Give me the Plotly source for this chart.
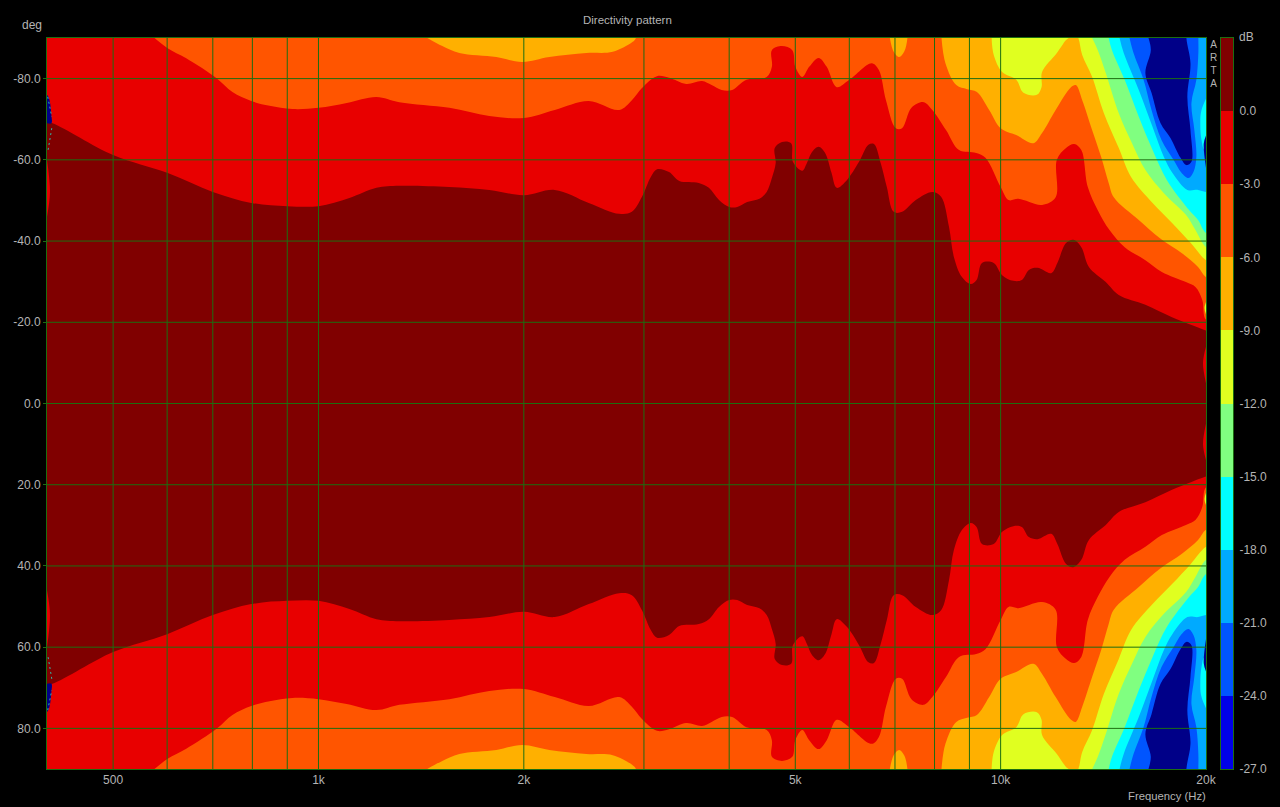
import plotly.graph_objects as go

# ---- contour read-outs: frequency (Hz) and off-axis angle magnitude (deg); pattern is mirrored about 0 deg
f_0 = [385,406.5,500,600,700,797,900,1000,1110,1216,1314,1556,1780,2000,2220,2490,2760,2880,2980,3070,3135,3265,3380,3610,3735,3865,4000,4110,4250,4430,4540,4620,4680,4665,4780,4930,4960,5120,5200,5290,5410,5530,5650,5750,5950,6200,6400,6520,6670,6810,6970,7170,7510,7940,8180,8400,8540,8770,9040,9220,9390,9770,10050,10440,10740,11000,11330,11860,12110,12470,12780,13130,13470,14260,14900,16300,17800,19050,19900,21000]
a_0 = [70,69.1,61.2,56.8,52.1,49.4,48.6,48.6,50.6,53.1,53.6,53.3,52.6,51.3,52.6,49.4,46.7,47.2,50.9,55.8,57.7,57.0,54.8,54.3,53.1,50.1,48.4,48.4,49.6,50.4,52.1,55.5,59.2,62.9,64.4,64.1,59.5,57.3,59.2,61.9,63.2,61.7,56.8,53.1,55.0,59.5,63.7,63.9,59.2,53.3,47.2,47.2,50.1,52.1,50.9,43.5,36.1,31.2,29.4,30.4,34.6,34.6,31.6,30.2,30.4,32.9,33.4,32.1,34.6,39.5,40.3,38.5,33.6,29.9,26.7,24.3,21.3,19.3,18.1,17]

f_3 = [575,601,640,709,748,797,848,916,1000,1100,1216,1314,1556,1780,2000,2220,2490,2760,2880,2980,3135,3265,3460,3650,3770,3900,4040,4240,4540,4620,4620,4780,4950,5000,5120,5240,5410,5560,5750,6000,6470,6630,6790,7020,7170,7400,7710,7940,8320,8690,9210,9500,10000,10270,10620,11500,12040,12090,12470,12820,13130,13420,13880,14440,15200,16300,17230,18690,19300,19750,20000,21000]
a_3 = [90,87.5,85,80.1,76.7,74.5,73.3,72.5,72.8,74,75.5,74.2,72.8,70.8,70.3,72.3,74.5,72.3,74.7,77.7,80.6,80.2,78.7,79.4,78.4,77.2,77.2,79.7,80.4,82.9,87,88,87,82.9,80.4,82.9,85.1,82.9,77.9,79.7,83.8,82.1,74.7,67.8,67.8,72.8,74.2,72.3,67.3,62.4,61.7,60.5,53.3,50.1,50.4,48.9,50.8,60,62.9,63.9,62.4,53.3,47.6,42.7,38.5,35.3,32.4,29.9,28.7,25.5,20.6,20]

f_6a = [1444,1519,1609,1823,1990,2180,2470,2700,2885,2920]
a_6a = [90,88.0,86.3,85.3,84.1,85.3,86.3,86.6,89,90]
f_6b = [6880,6970,7100,7220,7300]
a_6b = [90,86.6,85.3,86.6,90]
f_6c = [8190,8300,8610,8930,9230,9620,10000,10540,11170,11500,12040,12680,12890,13170,13620,14040,14400,14650,15940,17120,18440,19470,20000,21000]
a_6c = [90,83.8,78.4,77.4,76.7,72.3,67.8,66.1,64.1,66.6,72.3,77.9,78.4,74.7,67.3,60.7,54.3,50.8,45.2,40.7,37,33.6,31.1,30]

f_9 = [9700,9770,10050,10540,10800,11300,11480,11500,12090,12470,12580,12800,13000,13170,13620,14170,14900,15530,16700,17850,19000,20000,21000]
a_9 = [90,85.8,81.6,79.7,76.5,76,77.9,81.6,86.3,89.5,90,92,90,85.8,80.4,71.5,62.9,55.8,49.4,44.4,39.5,35.3,34]

f_12 = [13620,13880,14260,14900,15580,16300,17350,18700,19300,20000,21000]
a_12 = [90,87,81.4,71.5,64.1,57.5,51.8,46.4,42.7,38.5,37]

f_15 = [14400,14560,15200,15940,16700,17530,18900,19470,20000,21000]
a_15 = [90,87,79.7,70.6,62.4,55,47.6,45.2,42,41]

f_18 = [14940,15150,15940,16700,17350,17850,18780,19470,20000,21000]
a_18 = [90,86.3,77.2,68.1,60.7,56.8,52.6,52.6,52.1,52]

f_21 = [15450,15660,16200,16640,17210,17920,18410,18850,19170,19360,19230,19040,19360,19490,19490]
a_21 = [90,86.3,79.7,72.3,64.9,60,56.8,55.5,57,60.7,67.3,74,79.7,86.3,90]

f_24 = [16470,16600,16300,16640,17150,17740,18350,18720,19040,18980,18780,18980,18720]
a_24 = [90,87,81.4,76.5,69.1,65.4,60.5,58.7,59.5,67.3,75.5,83.8,90]

# small measurement artefacts along the plot edges
f_left_red = [400,404,400]
a_left_red = [60,52,46]
f_left_navy = [400,403,406,406,400]
a_left_navy = [76,75,71,69,69]
f_left_dash1 = [401,406.5]
a_left_dash1 = [75.5,70.6]
f_left_dash2 = [406.5,401]
a_left_dash2 = [67.8,61.9]
f_right_red = [20000,19800,20000]
a_right_red = [14,10,5]
f_right_yellow = [20000,19900,20000]
a_right_yellow = [25,23.5,22]
f_right_cyan = [20500,19700,19620,19700,19900,20500]
a_right_cyan = [78.5,72.3,68.6,64.9,62.4,62]
f_right_navy = [20000,19850,20000]
a_right_navy = [66,64,58]

# scale
level_low = [-27,-24,-21,-18,-15,-12,-9,-6,-3,0]
level_high = [-24,-21,-18,-15,-12,-9,-6,-3,0,3]
level_colors = ["#0000E8","#0055FF","#00AAFF","#00FFFF","#80FF80","#E0FF20","#FFB000","#FF5500","#E80000","#800000"]
NAVY = "#000088"

freq_ticks = [500,1000,2000,5000,10000,20000]
freq_labels = ["500","1k","2k","5k","10k","20k"]
freq_grid = [500,600,700,800,900,1000,2000,3000,4000,5000,6000,7000,8000,9000,10000]
angle_ticks = [-80,-60,-40,-20,0,20,40,60,80]
angle_labels = ["-80.0","-60.0","-40.0","-20.0","0.0","20.0","40.0","60.0","80.0"]
scale_ticks = [0,-3,-6,-9,-12,-15,-18,-21,-24,-27]
scale_labels = ["0.0","-3.0","-6.0","-9.0","-12.0","-15.0","-18.0","-21.0","-24.0","-27.0"]

GREY = "#B4B4B4"
GREEN = "#1C6E10"
FONT = "Liberation Sans"
W, H = 1280, 807
L, R, T, B = 47, 1206, 38, 769

fig = go.Figure()


def mirrored(fs, ds, color, close=True):
    xs = list(fs)
    ys = list(ds)
    if close:
        xs += [fs[-1], fs[0]]
        ys += [97, 97]
    fig.add_trace(go.Scatter(
        x=xs + [None] + xs, y=ys + [None] + [-v for v in ys],
        mode="lines", fill="toself", fillcolor=color,
        line=dict(width=0, color=color, shape="spline", smoothing=1.0),
        hoverinfo="skip", showlegend=False))


mirrored(f_0, a_0, "#E80000")
mirrored(f_3, a_3, "#FF5500")
mirrored(f_6a, a_6a, "#FFB000")
mirrored(f_6b, a_6b, "#FFB000")
mirrored(f_6c, a_6c, "#FFB000")
mirrored(f_9, a_9, "#E0FF20")
mirrored(f_12, a_12, "#80FF80")
mirrored(f_15, a_15, "#00FFFF")
mirrored(f_18, a_18, "#00AAFF")
mirrored(f_21, a_21, "#0055FF")
mirrored(f_24, a_24, NAVY)
mirrored(f_left_red, a_left_red, "#E80000", close=False)
mirrored(f_left_navy, a_left_navy, NAVY, close=False)
mirrored(f_right_red, a_right_red, "#E80000", close=False)
mirrored(f_right_yellow, a_right_yellow, "#E0FF20", close=False)
mirrored(f_right_cyan, a_right_cyan, "#00FFFF", close=False)
mirrored(f_right_navy, a_right_navy, NAVY, close=False)
for fs, ds in ((f_left_dash1, a_left_dash1), (f_left_dash2, a_left_dash2)):
    fig.add_trace(go.Scatter(
        x=fs + [None] + fs, y=ds + [None] + [-v for v in ds], mode="lines",
        line=dict(color="#30B8A8", width=1, dash="2px,3px"),
        hoverinfo="skip", showlegend=False))

fig.add_trace(go.Bar(
    x=[0] * len(level_low), y=[h - l for h, l in zip(level_high, level_low)],
    base=level_low, width=1, marker=dict(color=level_colors, line=dict(width=0)),
    xaxis="x2", yaxis="y2", hoverinfo="skip", showlegend=False))

shapes = []
for f in freq_grid:
    shapes.append(dict(type="line", xref="x", yref="paper", x0=f, x1=f, y0=(H - B) / H, y1=(H - T) / H,
                       line=dict(color=GREEN, width=1), layer="above"))
for a in angle_ticks:
    shapes.append(dict(type="line", xref="paper", yref="y", x0=L / W, x1=R / W, y0=a, y1=a,
                       line=dict(color=GREEN, width=1), layer="above"))


def note(text, x, y, xanchor="center", yanchor="middle", size=11):
    return dict(text=text, x=x / W, y=1 - y / H, xref="paper", yref="paper", showarrow=False,
                xanchor=xanchor, yanchor=yanchor, font=dict(family=FONT, size=size, color=GREY),
                align="center")


fig.update_layout(
    width=W, height=H, autosize=False, margin=dict(l=0, r=0, t=0, b=0, pad=0, autoexpand=False),
    paper_bgcolor="#000000", plot_bgcolor="#800000", bargap=0, showlegend=False,
    font=dict(family=FONT, size=12, color=GREY),
    xaxis=dict(type="log", range=[2.60206, 4.30103], domain=[L / W, R / W], anchor="y",
               tickvals=freq_ticks, ticktext=freq_labels, ticks="", showgrid=False, zeroline=False,
               showline=True, mirror=True, linecolor=GREEN, linewidth=1, layer="above traces",
               tickfont=dict(family=FONT, size=12, color=GREY)),
    yaxis=dict(range=[90, -90], domain=[(H - B) / H, (H - T) / H], anchor="x",
               tickvals=angle_ticks, ticktext=angle_labels, ticks="outside", ticklen=3, tickcolor=GREEN,
               showgrid=False, zeroline=False, showline=True, mirror=True, linecolor=GREEN, linewidth=1,
               layer="above traces", tickfont=dict(family=FONT, size=12, color=GREY)),
    xaxis2=dict(range=[-0.5, 0.5], domain=[1221 / W, 1233 / W], anchor="y2", showticklabels=False,
                ticks="", showgrid=False, zeroline=False, showline=True, mirror=True, linecolor=GREEN,
                linewidth=1),
    yaxis2=dict(range=[-27, 3], domain=[(H - B) / H, (H - T) / H], anchor="x2", side="right",
                tickvals=scale_ticks, ticktext=scale_labels, ticks="", showgrid=False, zeroline=False,
                showline=True, mirror=True, linecolor=GREEN, linewidth=1, ticklabelstandoff=3,
                tickfont=dict(family=FONT, size=12, color=GREY)),
    shapes=shapes,
    annotations=[
        note("Directivity pattern", 627, 20, size=11.5),
        note("deg", 32, 25, size=12),
        note("Frequency (Hz)", 1208, 796, xanchor="right", size=11.3),
        note("dB", 1246, 37, size=12),
        note("A<br>R<br>T<br>A", 1213, 37, yanchor="top", size=10),
    ],
)

fig.write_html("out.html", config=dict(displayModeBar=False),
               post_script="document.body.style.margin='0';document.documentElement.style.overflow='hidden';document.body.style.background='#000';")
